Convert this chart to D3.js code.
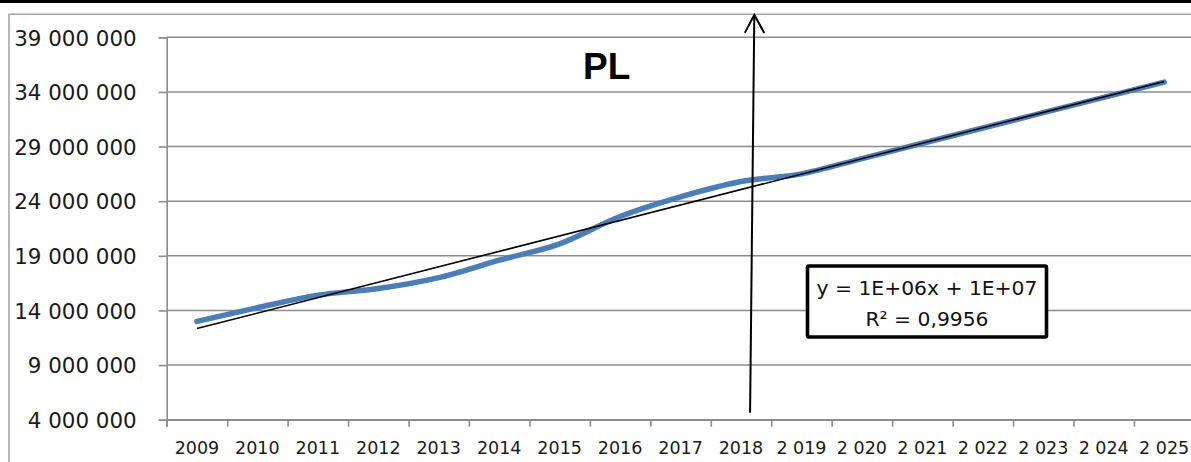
<!DOCTYPE html>
<html>
<head>
<meta charset="utf-8">
<script src="https://cdn.jsdelivr.net/npm/d3@7"></script>
<style>
  html, body { margin: 0; padding: 0; background: #fff; }
  svg { display: block; }
</style>
</head>
<body>
<svg id="chart" width="1191" height="462"></svg>
<script>
// Years on the category axis and the label shown under each one
const years = [2009, 2010, 2011, 2012, 2013, 2014, 2015, 2016, 2017, 2018, 2019, 2020, 2021, 2022, 2023, 2024, 2025];
const yearLabels = ["2009", "2010", "2011", "2012", "2013", "2014", "2015", "2016", "2017", "2018",
                    "2 019", "2 020", "2 021", "2 022", "2 023", "2 024", "2 025"];

// Series values (actuals to 2018, forecast afterwards)
const values = [13.0e6, 14.25e6, 15.4e6, 16.0e6, 17.0e6, 18.6e6, 20.1e6, 22.6e6, 24.4e6, 25.8e6,
                26.5e6, 27.9e6, 29.3e6, 30.7e6, 32.1e6, 33.5e6, 34.9e6];

// Value axis ticks
const yTicks = [4e6, 9e6, 14e6, 19e6, 24e6, 29e6, 34e6, 39e6];

// Trendline label
const trendLabel = ["y = 1E+06x + 1E+07", "R\u00B2 = 0,9956"];
const title = "PL";

const svg = d3.select("#chart");
const W = 1191, H = 462;

const plot = { left: 166.7, right: 1194.4, top: 37.3, bottom: 419.7 };

// index scale: category centres at integer positions, boundaries at half steps
const x = d3.scaleLinear().domain([-0.5, years.length - 0.5]).range([plot.left, plot.right]);
const y = d3.scaleLinear().domain([4e6, 39e6]).range([plot.bottom, plot.top]);

const fmt = d3.formatLocale({ decimal: ",", thousands: " ", grouping: [3], currency: ["", ""] }).format(",d");

// top black strip and outer frame
svg.append("rect").attr("x", 0).attr("y", 0).attr("width", W).attr("height", 3).attr("fill", "#000");
svg.append("path")
  .attr("d", `M9,${H + 5} L9,14.3 L${W + 5},14.3`)
  .attr("fill", "none").attr("stroke", "#a6a6a6").attr("stroke-width", 1.6);

// horizontal gridlines
svg.append("g").selectAll("line").data(yTicks).join("line")
  .attr("x1", plot.left).attr("x2", W + 5)
  .attr("y1", d => y(d)).attr("y2", d => y(d))
  .attr("stroke", "#8c8c8c").attr("stroke-width", 1.6);

// value axis
const yAxis = svg.append("g").attr("transform", `translate(${plot.left},0)`)
  .call(d3.axisLeft(y).tickValues(yTicks).tickSize(8).tickPadding(22).tickFormat(fmt));
yAxis.select(".domain").attr("stroke", "#8c8c8c").attr("stroke-width", 1.6);
yAxis.selectAll(".tick line").attr("stroke", "#8c8c8c").attr("stroke-width", 1.6);
yAxis.selectAll(".tick text")
  .attr("font-family", "DejaVu Sans").attr("font-size", 21.4).attr("fill", "#1a1a1a")
  .attr("dy", "0.36em");

// category axis: ticks between categories, labels at centres
const boundaries = d3.range(years.length + 1).map(i => i - 0.5);
const xAxis = svg.append("g").attr("transform", `translate(0,${plot.bottom})`)
  .call(d3.axisBottom(x).tickValues(boundaries).tickSize(7).tickFormat(""));
xAxis.select(".domain").attr("stroke", "#8c8c8c").attr("stroke-width", 1.6);
xAxis.selectAll(".tick line").attr("stroke", "#8c8c8c").attr("stroke-width", 1.6);

svg.append("g").selectAll("text").data(yearLabels).join("text")
  .attr("x", (d, i) => x(i)).attr("y", 454)
  .attr("text-anchor", "middle")
  .attr("font-family", "DejaVu Sans").attr("font-size", 17.5).attr("fill", "#1a1a1a")
  .text(d => d);

// data series
const line = d3.line().x((d, i) => x(i)).y(d => y(d)).curve(d3.curveMonotoneX);
svg.append("path").datum(values)
  .attr("d", line)
  .attr("fill", "none").attr("stroke", "#4a7ebb").attr("stroke-width", 5.5)
  .attr("stroke-linecap", "round").attr("stroke-linejoin", "round");

// linear trendline fitted to the series (x = 1..n)
const n = values.length;
const xs = d3.range(1, n + 1);
const mx = d3.mean(xs), my = d3.mean(values);
const slope = d3.sum(xs, (v, i) => (v - mx) * (values[i] - my)) / d3.sum(xs, v => (v - mx) ** 2);
const intercept = my - slope * mx;
svg.append("line")
  .attr("x1", x(0)).attr("y1", y(intercept + slope * 1))
  .attr("x2", x(n - 1)).attr("y2", y(intercept + slope * n))
  .attr("stroke", "#000").attr("stroke-width", 1.6);

// marker arrow splitting actuals from forecast
const arrowFrom = { i: 9.15, v: 4.64e6 };
const arrowTo = { i: 9.22, v: 41.05e6 };
const ax0 = x(arrowFrom.i), ay0 = y(arrowFrom.v), ax1 = x(arrowTo.i), ay1 = y(arrowTo.v);
svg.append("line")
  .attr("x1", ax0).attr("y1", ay0).attr("x2", ax1).attr("y2", ay1)
  .attr("stroke", "#000").attr("stroke-width", 2);
svg.append("path")
  .attr("d", `M${ax1 - 9.5},${ay1 + 18} L${ax1},${ay1} L${ax1 + 10},${ay1 + 18}`)
  .attr("fill", "none").attr("stroke", "#000").attr("stroke-width", 2);

// title
svg.append("text").attr("x", 583).attr("y", 78.5)
  .attr("font-family", "Liberation Sans").attr("font-weight", "bold").attr("font-size", 37)
  .attr("fill", "#000").text(title);

// trendline equation box
const box = { x: 807.5, y: 266, w: 239, h: 71 };
svg.append("rect").attr("x", box.x).attr("y", box.y).attr("width", box.w).attr("height", box.h)
  .attr("rx", 1.5).attr("fill", "#fff").attr("stroke", "#000").attr("stroke-width", 3.6);
svg.append("g").selectAll("text").data(trendLabel).join("text")
  .attr("x", box.x + box.w / 2).attr("y", (d, i) => 295 + i * 31)
  .attr("text-anchor", "middle")
  .attr("font-family", "DejaVu Sans").attr("font-size", 20.3).attr("fill", "#111")
  .text(d => d);
</script>
</body>
</html>
